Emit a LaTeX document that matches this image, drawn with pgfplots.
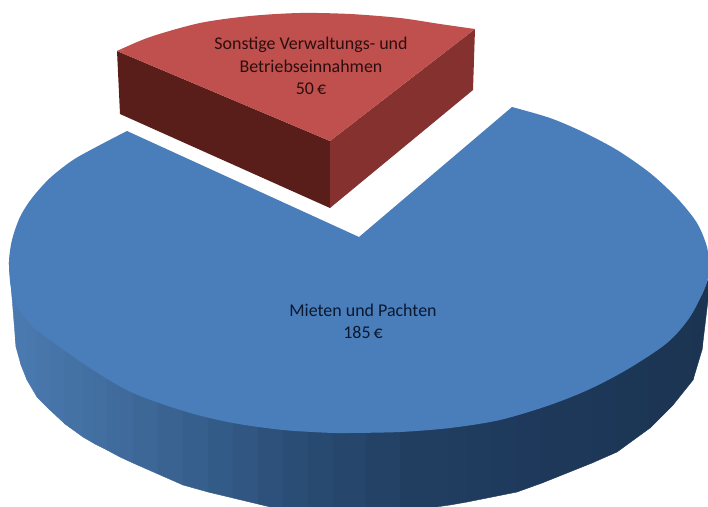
\documentclass[border=0pt]{standalone}
\usepackage{fontspec}
\setmainfont{Carlito}
\usepackage{pgfplots}
\pgfplotsset{compat=1.18}
\definecolor{bluetop}{RGB}{74,126,187}
\definecolor{redtop}{RGB}{192,80,77}
\definecolor{redleft}{RGB}{90,30,26}
\definecolor{redright}{RGB}{133,49,47}
\definecolor{bluetext}{RGB}{10,24,48}
\definecolor{redtext}{RGB}{44,14,14}
\begin{document}
\begin{tikzpicture}
\useasboundingbox (0,0) rectangle (708bp,507bp);
\begin{axis}[
    at={(0,0)}, anchor=south west,
    scale only axis, width=708bp, height=507bp,
    xmin=0, xmax=708, ymin=0, ymax=507, y dir=reverse,
    hide axis, clip=true,
    colormap={side}{rgb255(0)=(76,124,180); rgb255(100)=(66,110,160); rgb255(187)=(56,97,143);
        rgb255(283)=(43,79,120); rgb255(400)=(34,64,98); rgb255(500)=(30,58,92); rgb255(708)=(27,52,82)},
    point meta min=0, point meta max=708,
]
% blue slice: side wall, quads of top edge / bottom edge
\addplot[patch, patch type=rectangle, shader=faceted, faceted color=mapped color, line width=0.4pt, point meta=x] coordinates {
(9,262) (12,290) (12,297) (9,262)
(12,290) (16,297) (16,347) (12,297)
(16,297) (21,306) (21,365) (16,347)
(21,306) (27,317) (27,380) (21,365)
(27,317) (37,330) (37,397) (27,380)
(37,330) (50,337) (50,410) (37,397)
(50,337) (65,347) (65,424) (50,410)
(65,347) (83,360) (83,437) (65,424)
(83,360) (95,367) (95,444) (83,437)
(95,367) (107,375) (107,450) (95,444)
(107,375) (120,383) (120,457) (107,450)
(120,383) (133,390) (133,463) (120,457)
(133,390) (158,399) (158,474) (133,463)
(158,399) (183,408) (183,485) (158,474)
(183,408) (208,415) (208,492) (183,485)
(208,415) (233,420) (233,498) (208,492)
(233,420) (258,424) (258,504) (233,498)
(258,424) (283,427) (283,510) (258,504)
(283,427) (308,429) (308,513) (283,510)
(308,429) (333,430) (333,515) (308,513)
(333,430) (366,430) (366,514) (333,515)
(366,430) (400,429) (400,512) (366,514)
(400,429) (450,425) (450,505) (400,512)
(450,425) (467,422) (467,502) (450,505)
(467,422) (492,418) (492,497) (467,502)
(492,418) (517,413) (517,492) (492,497)
(517,413) (542,405) (542,483) (517,492)
(542,405) (567,396) (567,473) (542,483)
(567,396) (592,384) (592,463) (567,473)
(592,384) (617,372) (617,452) (592,463)
(617,372) (650,353) (650,428) (617,452)
(650,353) (673,333) (673,405) (650,428)
(673,333) (693,309) (693,380) (673,405)
(693,309) (702,295) (702,350) (693,380)
(702,295) (708,280) (708,300) (702,350)
};
% blue slice: top face, right rim, left rim, middle
\addplot[smooth, fill=bluetop, draw=none] coordinates {
(512,107) (550,118) (583,132) (617,150) (650,173) (677,198) (697,223) (707,247) (709,267) (706,285)
(690,317) (667,343) (628,369) (590,389) (550,405) (500,420) (450,428) (400,432) (350,433)
};
\addplot[smooth, fill=bluetop, draw=none] coordinates {
(350,433) (333,433) (283,430) (233,423) (187,412) (133,393) (93,370) (57,345) (33,327) (18,308) (11,288)
(9,262) (12,240) (20,217) (32,198) (50,178) (73,160) (100,145) (127,131)
};
\addplot[fill=bluetop, draw=none] coordinates {
(359,237) (512,107) (620,260) (350,433) (80,260) (127,131)
} -- cycle;
% red slice
\addplot[fill=redleft, draw=none] coordinates {(117,51) (330,141) (330,208) (120,114)} -- cycle;
\addplot[fill=redright, draw=none] coordinates {(330,141) (475,29) (473,90) (330,208)} -- cycle;
\addplot[smooth, fill=redtop, draw=none] coordinates {
(117,51) (150,37) (200,23) (250,16) (300,13) (350,14) (400,18) (440,24) (475,29)
};
\addplot[fill=redtop, draw=none] coordinates {(330,141) (117,51) (300,30) (475,29)} -- cycle;
\node[text=redtext, font=\fontsize{18}{20}\selectfont] at (axis cs:311,45) {Sonstige Verwaltungs- und};
\node[text=redtext, font=\fontsize{18}{20}\selectfont] at (axis cs:311,66) {Betriebseinnahmen};
\node[text=redtext, font=\fontsize{18}{20}\selectfont] at (axis cs:311,89) {50\,€};
\node[text=bluetext, font=\fontsize{18}{20}\selectfont] at (axis cs:363,310) {Mieten und Pachten};
\node[text=bluetext, font=\fontsize{18}{20}\selectfont] at (axis cs:363,332) {185\,€};
\end{axis}
\end{tikzpicture}
\end{document}
